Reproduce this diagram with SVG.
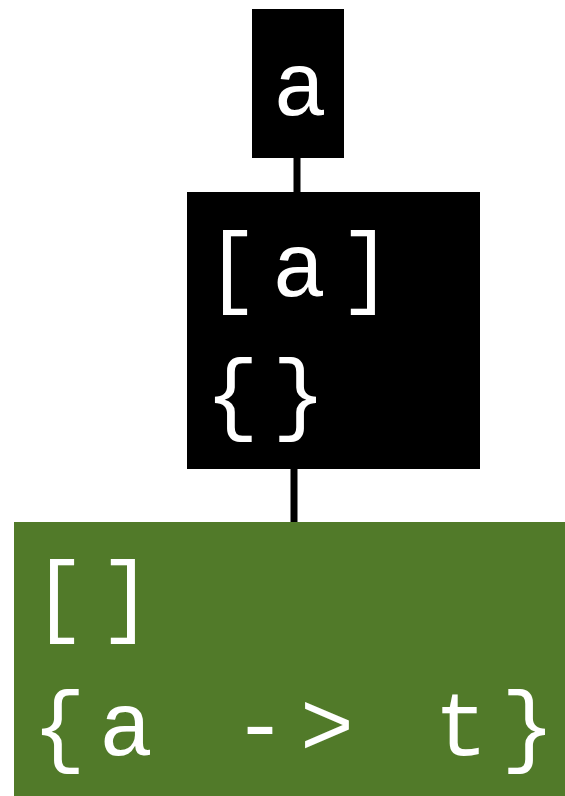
<svg xmlns="http://www.w3.org/2000/svg" width="565" height="796" viewBox="0 0 565 796">
<style>
.t{font-family:"Liberation Mono","DejaVu Sans Mono",monospace;font-size:90px;fill:#ffffff;letter-spacing:13px;}
.c{letter-spacing:0;}
.e{stroke:#000;stroke-width:7;fill:none;}
</style>
<rect width="565" height="796" fill="#ffffff"/>
<g id="edges">
<line class="e" x1="297" y1="158" x2="297" y2="192"/>
<line class="e" x1="294" y1="469" x2="294" y2="522"/>
</g>
<g id="n1">
<rect x="252" y="9" width="92" height="149" fill="#000"/>
<text class="t c" x="300" y="115" text-anchor="middle">a</text>
</g>
<g id="n2">
<rect x="187" y="192" width="293" height="277" fill="#000"/>
<text class="t" x="205" y="296">[a<tspan class="c">]</tspan></text>
<text class="t" x="205" y="423">{<tspan class="c">}</tspan></text>
</g>
<g id="n3">
<rect x="14" y="522" width="551" height="274" fill="#517a29"/>
<text class="t" x="32" y="625">[<tspan class="c">]</tspan></text>
<text class="t" x="32" y="755">{a -&gt; t<tspan class="c">}</tspan></text>
</g>
</svg>
